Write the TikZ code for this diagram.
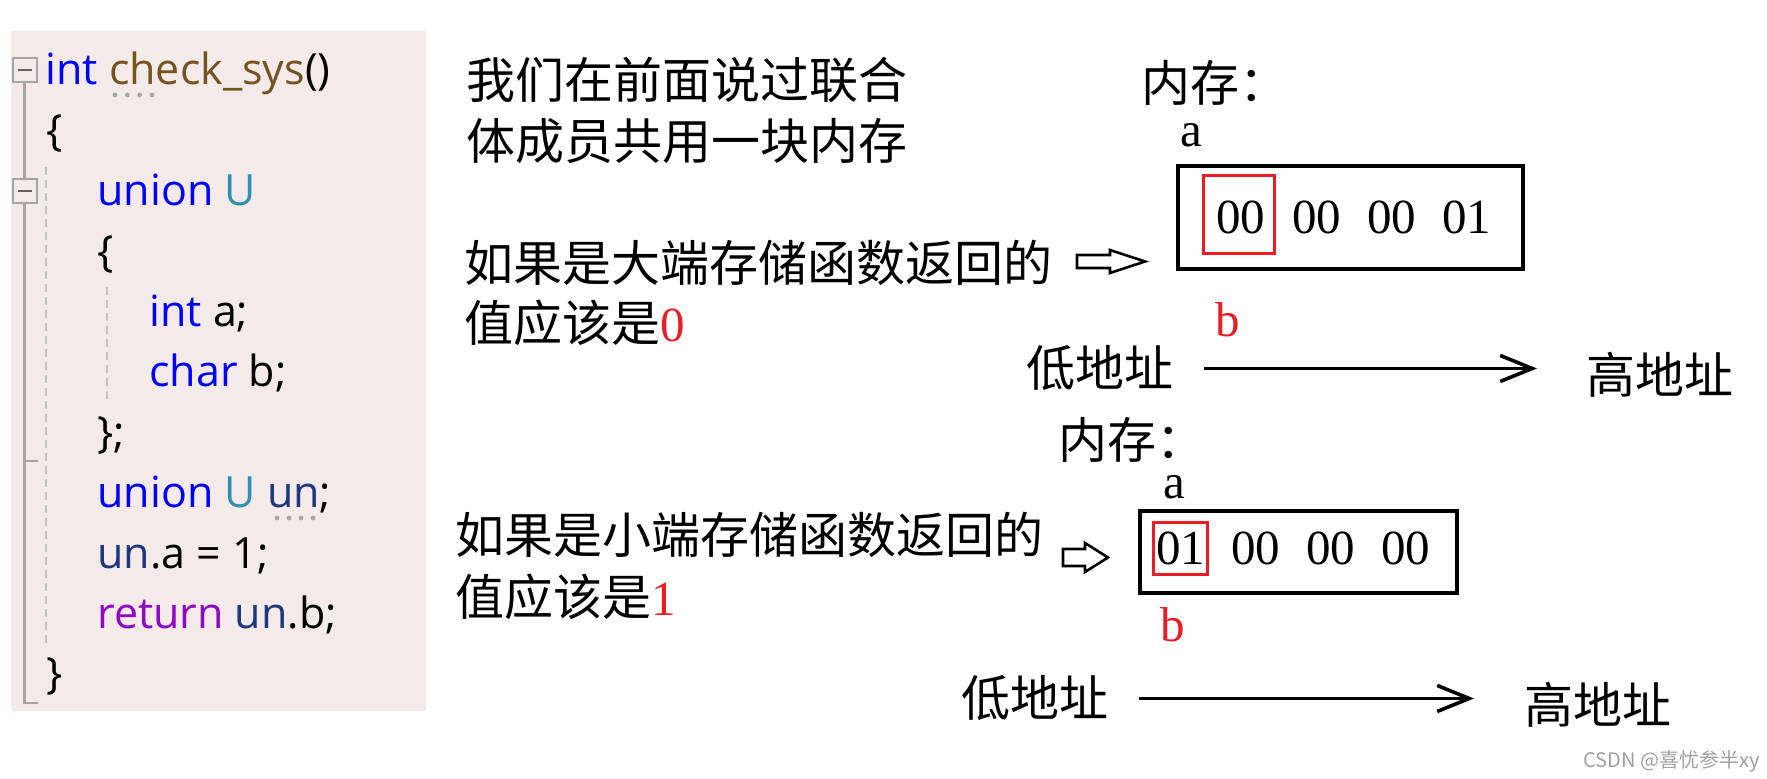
\documentclass[tikz,border=0pt]{standalone}
\usepackage{fontspec}
\setmainfont{Liberation Serif}
\newfontfamily\cjkfont{Noto Sans CJK SC}
\newfontfamily\codefont{Open Sans}
\newfontfamily\romanfont{Liberation Serif}
\usetikzlibrary{arrows.meta,positioning,fit}

\definecolor{codebg}{HTML}{F5EAEA}
\definecolor{kwblue}{HTML}{0000FF}
\definecolor{fnbrown}{HTML}{74531F}
\definecolor{tyteal}{HTML}{2B91AF}
\definecolor{varnavy}{HTML}{1F377F}
\definecolor{retpurple}{HTML}{8F08C4}
\definecolor{hired}{HTML}{ED1C24}
\definecolor{guidegray}{HTML}{C4C4C4}
\definecolor{foldgray}{HTML}{A5A5A5}
\definecolor{markgray}{HTML}{A8A8A8}
\definecolor{wmgray}{HTML}{A0A0A0}

\newcommand{\kwd}[1]{\textcolor{kwblue}{#1}}
\newcommand{\fnm}[1]{\textcolor{fnbrown}{#1}}
\newcommand{\tyn}[1]{\textcolor{tyteal}{#1}}
\newcommand{\vnm}[1]{\textcolor{varnavy}{#1}}
\newcommand{\rtn}[1]{\textcolor{retpurple}{#1}}

\begin{document}
\begin{tikzpicture}[
  x=0.5pt, y=-0.5pt,
  codeline/.style={
    anchor=base west,
    inner sep=0pt,
    font=\codefont\fontsize{21.5pt}{26pt}\selectfont
  },
  note/.style={
    anchor=base west,
    inner sep=0pt,
    font=\cjkfont\fontsize{24.5pt}{30pt}\selectfont
  },
  latin/.style={
    anchor=base west,
    inner sep=0pt,
    font=\romanfont\fontsize{24.5pt}{30pt}\selectfont
  },
  membox/.style={draw, line width=1.8pt, inner sep=0pt},
  pick/.style={draw=hired, line width=1.5pt, inner sep=0pt},
  foldbox/.style={draw=foldgray, line width=1pt, minimum size=12pt, inner sep=0pt},
  outline/.style={draw=foldgray, line width=1.2pt},
  guide/.style={draw=guidegray, line width=1.1pt, dash pattern=on 4pt off 2.5pt},
  hollow/.style={draw, line width=1.3pt, fill=white},
  addr/.style={-{Straight Barb[length=16pt,width=13pt]}, line width=1.8pt}
]
\useasboundingbox (0,0) rectangle (1767,779);

% code panel
\fill[codebg] (11,31) rectangle (426,711);
\node[codeline] (c1) at (45,85) {\kwd{int} \fnm{check\_sys}()};
\node[codeline] (c2) at (46,145.4) {\{};
\node[codeline] (c3) at (97,205.8) {\kwd{union} \tyn{U}};
\node[codeline] (c4) at (97,266.2) {\{};
\node[codeline] (c5) at (149,326.6) {\kwd{int} a;};
\node[codeline] (c6) at (149,387) {\kwd{char} b;};
\node[codeline] (c7) at (97,447.4) {\};};
\node[codeline] (c8) at (97,507.8) {\kwd{union} \tyn{U} \vnm{un};};
\node[codeline] (c9) at (97,568.2) {\vnm{un}.a = 1;};
\node[codeline] (c10) at (97,628.6) {\rtn{return} \vnm{un}.b;};
\node[codeline] (c11) at (46,689) {\}};

% gutter
\node[foldbox] (fold1) at (24.5,70) {};
\node[foldbox] (fold2) at (24.5,191) {};
\foreach \f in {fold1,fold2}
  \draw[foldgray!60!black, line width=1.1pt] ([xshift=-3.5pt]\f.center) -- ([xshift=3.5pt]\f.center);
\draw[outline] (fold1.south) -- (fold2.north);
\draw[outline] (fold2.south) -- (24.5,703) -- (38,703);
\draw[outline] (24.5,461) -- (38,461);
\draw[guide] (46,167) -- (46,643);
\draw[guide] (107,287) -- (107,400);
\foreach \x in {115,127.3,139.7,152} \fill[markgray] (\x,95) circle (1.2pt);
\foreach \x in {277,289,301,313} \fill[markgray] (\x,518) circle (1.2pt);

% big endian
\node[note] (intro1) at (466,99) {我们在前面说过联合};
\node[note] (intro2) at (466,160) {体成员共用一块内存};
\node[note] (big1) at (464,282) {如果是大端存储函数返回的};
\node[note] (big2) at (464,342) {值应该是{\romanfont\color{hired}0}};
\node[note] (mem1) at (1141,102) {内存：};
\node[latin] (a1) at (1180,147) {a};
\node[membox, fit={(1178,166) (1523,269)}] (box1) {};
\foreach \v/\x [count=\i] in {00/1216,00/1292,00/1367,01/1442}
  \node[latin] (be\i) at (\x,233.5) {\v};
\node[pick, fit={(1203,176) (1274,254)}] (pick1) {};
\node[latin, text=hired] (b1) at (1215,337) {b};
\draw[hollow] (1077,255) -- (1110,255) -- (1110,250) -- (1145,261.5) -- (1110,273) -- (1110,268) -- (1077,268) -- cycle;
\node[note] (low1) at (1026,387) {低地址};
\node[note] (high1) at (1586,394) {高地址};
\draw[addr, shorten <=15pt, shorten >=24.5pt] (low1.east) -- (low1.east -| high1.west);

% little endian
\node[note] (small1) at (455,554) {如果是小端存储函数返回的};
\node[note] (small2) at (455,616) {值应该是{\romanfont\color{hired}1}};
\node[note] (mem2) at (1058,459) {内存：};
\node[latin] (a2) at (1163,499) {a};
\node[membox, fit={(1140,511) (1457,593)}] (box2) {};
\foreach \v/\x [count=\i] in {01/1156,00/1231,00/1306,00/1381}
  \node[latin] (le\i) at (\x,565) {\v};
\node[pick, fit={(1153,523) (1207,575)}] (pick2) {};
\node[latin, text=hired] (b2) at (1160,642) {b};
\draw[hollow] (1063,549) -- (1085,549) -- (1085,543) -- (1108,557.5) -- (1085,572) -- (1085,566) -- (1063,566) -- cycle;
\node[note] (low2) at (961,717) {低地址};
\node[note] (high2) at (1524,724) {高地址};
\draw[addr, shorten <=15pt, shorten >=25pt] (low2.east) -- (low2.east -| high2.west);

\node[anchor=base west, inner sep=0pt, text=wmgray, font=\cjkfont\fontsize{10pt}{12pt}\selectfont] (mark) at (1583,768) {CSDN @喜忧参半xy};
\end{tikzpicture}
\end{document}
